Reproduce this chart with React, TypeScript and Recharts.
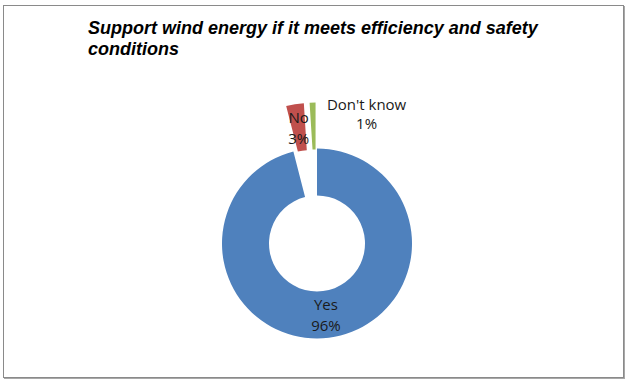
import React from 'react';
import { PieChart, Pie, Cell } from 'recharts';

const categories = ['Yes', 'No', "Don't know"];
const shares = [96, 3, 1];
const colors = ['#4F81BD', '#C0504D', '#9BBB59'];
const explode = [0, 46, 46];

const data = categories.map((name, i) => ({ name, value: shares[i] }));

const CX = 313;
const CY = 237.5;
const INNER = 48;
const OUTER = 95;
const RAD = Math.PI / 180;
const total = shares.reduce((a, b) => a + b, 0);

// mid angle of each slice in recharts' degrees (start at 12 o'clock, clockwise)
const midAngles = shares.map((v, i) => {
  const before = shares.slice(0, i).reduce((a, b) => a + b, 0);
  return 90 - (360 * (before + v / 2)) / total;
});

const centerFor = (i: number) => ({
  x: CX + explode[i] * Math.cos(-midAngles[i] * RAD),
  y: CY + explode[i] * Math.sin(-midAngles[i] * RAD),
});

const labelStyle = { fontFamily: '"Open Sans", sans-serif', fontSize: 15, fill: '#1a1a1a' };

const makeLabel = (slice: number) => (props: any) => {
  if (props.index !== slice) return null;
  const { cx, cy, midAngle, innerRadius, outerRadius } = props;
  const pct = `${shares[slice]}%`;
  if (slice === 2) {
    // small slice: put the label beside the outer end
    const ox = cx + outerRadius * Math.cos(-midAngle * RAD);
    const oy = cy + outerRadius * Math.sin(-midAngle * RAD);
    return (
      <text x={ox + 54} y={oy + 7} textAnchor="middle" style={labelStyle}>
        <tspan x={ox + 54}>{categories[slice]}</tspan>
        <tspan x={ox + 54} dy={19}>{pct}</tspan>
      </text>
    );
  }
  const r = (innerRadius + outerRadius) / 2;
  const x = cx + r * Math.cos(-midAngle * RAD);
  const y = cy + r * Math.sin(-midAngle * RAD);
  return (
    <text x={x} y={y - 4} textAnchor="middle" style={labelStyle}>
      <tspan x={x}>{categories[slice]}</tspan>
      <tspan x={x} dy={21}>{pct}</tspan>
    </text>
  );
};

export default function App() {
  return (
    <div
      style={{
        position: 'absolute',
        left: 3,
        top: 5,
        width: 619,
        height: 371,
        border: '1px solid #8a8a8a',
        boxShadow: '1px 1px 0 #a8a8a8',
        background: '#fff',
      }}
    >
      <div
        style={{
          position: 'absolute',
          left: 84,
          top: 12,
          fontFamily: '"Liberation Sans", Arial, sans-serif',
          fontWeight: 'bold',
          fontStyle: 'italic',
          fontSize: 18,
          lineHeight: '21px',
          color: '#000',
        }}
      >
        Support wind energy if it meets efficiency and safety
        <br />
        conditions
      </div>
      <PieChart
        width={619}
        height={371}
        margin={{ top: 0, right: 0, bottom: 0, left: 0 }}
        style={{ position: 'absolute', left: 0, top: 0 }}
      >
        {categories.map((_, slice) => {
          const c = centerFor(slice);
          return (
            <Pie
              key={slice}
              data={data}
              dataKey="value"
              nameKey="name"
              cx={c.x}
              cy={c.y}
              innerRadius={INNER}
              outerRadius={OUTER}
              startAngle={90}
              endAngle={-270}
              stroke="none"
              labelLine={false}
              label={makeLabel(slice)}
              isAnimationActive={false}
            >
              {data.map((_, i) => (
                <Cell key={i} fill={i === slice ? colors[i] : 'none'} />
              ))}
            </Pie>
          );
        })}
      </PieChart>
    </div>
  );
}
